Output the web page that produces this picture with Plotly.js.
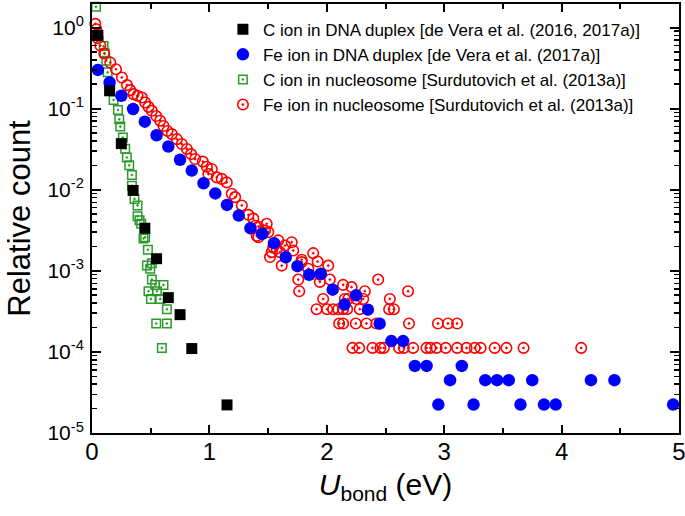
<!DOCTYPE html>
<html>
<head>
<meta charset="utf-8">
<script src="https://cdn.plot.ly/plotly-3.0.1.min.js"></script>
<style>html,body{margin:0;padding:0;background:#fff;}#chart{width:685px;height:516px;}</style>
</head>
<body>
<div id="chart"></div>
<script>
// C ion in DNA duplex
const blackX = [0.05,0.15,0.25,0.35,0.45,0.55,0.65,0.75,0.85,1.15];
const blackY = [0.8,0.166,0.037,0.0098,0.00335,0.00141,0.000467,0.000288,0.00011,0.0000222];

// Fe ion in DNA duplex
const blueX = [0.05,0.15,0.25,0.35,0.45,0.55,0.65,0.75,0.85,0.95,1.05,1.15,1.25,1.35,1.45,1.55,1.65,1.75,1.85,1.95,2.05,2.15,2.25,2.35,2.45,2.55,2.65,2.75,2.85,2.95,3.05,3.15,3.25,3.35,3.45,3.55,3.65,3.75,3.85,3.95,4.25,4.45,4.95];
const blueY = [0.30,0.21,0.144,0.099,0.069,0.047,0.034,0.0234,0.0172,0.012,0.0090,0.0065,0.0048,0.00335,0.00286,0.00219,0.00147,0.00114,0.000895,0.00092,0.000586,0.000383,0.000498,0.000332,0.000223,0.000136,0.000136,0.0000672,0.0000672,0.0000224,0.0000448,0.0000672,0.0000224,0.0000448,0.0000448,0.0000448,0.0000224,0.0000448,0.0000224,0.0000224,0.0000448,0.0000448,0.0000224];

// C ion in nucleosome
const greenX = [0.034,0.099,0.107,0.122,0.133,0.184,0.221,0.232,0.241,0.263,0.283,0.297,0.317,0.34,0.34,0.362,0.388,0.388,0.405,0.419,0.439,0.453,0.476,0.468,0.496,0.51,0.51,0.538,0.609,0.481,0.553,0.581,0.502,0.638,0.547,0.638,0.595];
const greenY = [1.8,0.59,0.48,0.39,0.28,0.128,0.096,0.074,0.060,0.044,0.032,0.025,0.020,0.0152,0.0112,0.0077,0.0064,0.0047,0.0042,0.0038,0.0025,0.0026,0.00182,0.00116,0.00106,0.00124,0.00078,0.00067,0.00067,0.00056,0.00056,0.00045,0.00045,0.000336,0.000224,0.000224,0.000112];

// Fe ion in nucleosome
const redX = [0.028,0.037,0.043,0.048,0.071,0.105,0.156,0.204,0.255,0.298,0.326,0.354,0.388,0.425,0.453,0.481,0.510,0.547,0.581,0.609,0.643,0.680,0.723,0.765,0.808,0.844,0.878,0.944,0.978,0.991,1.020,1.063,1.105,1.148,1.190,1.219,1.276,1.332,1.374,1.389,1.403,1.417,1.417,1.474,1.488,1.502,1.516,1.531,1.544,1.573,1.587,1.601,1.616,1.644,1.701,1.714,1.757,1.765,1.786,1.786,1.842,1.884,1.913,1.922,1.941,1.941,1.969,2.003,2.012,2.026,2.054,2.097,2.105,2.139,2.139,2.139,2.154,2.173,2.182,2.211,2.219,2.247,2.253,2.276,2.281,2.310,2.324,2.338,2.389,2.423,2.437,2.457,2.486,2.531,2.537,2.571,2.616,2.656,2.692,2.70,2.735,2.849,2.883,2.934,2.947,3.013,3.032,3.11,3.11,3.19,3.26,3.31,3.43,3.53,3.676,4.167];
const redY = [1.11,0.95,0.82,0.74,0.60,0.48,0.37,0.306,0.242,0.195,0.169,0.151,0.144,0.137,0.119,0.105,0.094,0.081,0.071,0.061,0.053,0.0485,0.042,0.0366,0.0318,0.0275,0.0239,0.0222,0.0192,0.0156,0.018,0.0142,0.0136,0.0123,0.0089,0.0081,0.0064,0.0049,0.0044,0.0036,0.0027,0.0035,0.0026,0.00314,0.0038,0.0030,0.00148,0.0017,0.00196,0.00187,0.00237,0.0017,0.00116,0.00205,0.00225,0.00178,0.00078,0.00056,0.00137,0.00128,0.00106,0.00165,0.000336,0.0013,0.000896,0.00073,0.00045,0.000336,0.00116,0.00078,0.000336,0.000336,0.000224,0.00067,0.000336,0.000224,0.00045,0.000336,0.00045,0.00063,0.000112,0.000224,0.00045,0.000112,0.000336,0.00045,0.00056,0.000224,0.000112,0.000224,0.00078,0.000112,0.000112,0.000336,0.00045,0.000336,0.000112,0.000112,0.00056,0.000224,0.000112,0.000112,0.000112,0.000112,0.000224,0.000112,0.000224,0.000224,0.000112,0.000112,0.000112,0.000112,0.000112,0.000112,0.000112,0.000112];

const seriesNames = [
  "C ion in DNA duplex [de Vera et al. (2016, 2017a)]",
  "Fe ion in DNA duplex [de Vera et al. (2017a)]",
  "C ion in nucleosome [Surdutovich et al. (2013a)]",
  "Fe ion in nucleosome [Surdutovich et al. (2013a)]"
];

const yTickVals = [1e-5,1e-4,1e-3,1e-2,1e-1,1];
const yTickText = ["10<sup>-5</sup>","10<sup>-4</sup>","10<sup>-3</sup>","10<sup>-2</sup>","10<sup>-1</sup>","10<sup>0</sup>"];
const yMinorVals = [];
for (let e = -5; e <= 0; e++) for (let m = 2; m <= 9; m++) yMinorVals.push(m * Math.pow(10, e));

const FONT = "Arial, 'Liberation Sans', sans-serif";

const traces = [
  {x: greenX, y: greenY, name: seriesNames[2], legendrank: 3, mode: 'markers', type: 'scatter', cliponaxis: false,
   marker: {symbol: 'square-open-dot', size: 8.5, color: '#2a9a2a', line: {width: 1.5, color: '#2a9a2a'}}},
  {x: redX, y: redY, name: seriesNames[3], legendrank: 4, mode: 'markers', type: 'scatter', cliponaxis: false,
   marker: {symbol: 'circle-open-dot', size: 10.5, color: '#ff0000', line: {width: 1.6, color: '#ff0000'}}},
  {x: blueX, y: blueY, name: seriesNames[1], legendrank: 2, mode: 'markers', type: 'scatter', cliponaxis: false,
   marker: {symbol: 'circle', size: 12.5, color: '#0000ff'}},
  {x: blackX, y: blackY, name: seriesNames[0], legendrank: 1, mode: 'markers', type: 'scatter', cliponaxis: false,
   marker: {symbol: 'square', size: 11, color: '#000000'}}
];

const layout = {
  width: 685, height: 516,
  margin: {l: 92, r: 6, t: 4, b: 83},
  paper_bgcolor: '#ffffff', plot_bgcolor: '#ffffff',
  font: {family: FONT, color: '#000'},
  showlegend: true,
  legend: {x: 0.223, y: 0.982, xanchor: 'left', yanchor: 'top', traceorder: 'normal',
           font: {size: 17, family: FONT}, bgcolor: 'rgba(0,0,0,0)', tracegroupgap: 0, itemsizing: 'trace'},
  xaxis: {
    range: [0, 5], tickmode: 'linear', tick0: 0, dtick: 1,
    ticks: 'inside', ticklen: 8, tickwidth: 2, tickcolor: '#000',
    showline: true, linewidth: 2, linecolor: '#000', mirror: 'allticks',
    showgrid: false, zeroline: false, ticklabeloverflow: 'allow',
    tickfont: {size: 24, family: FONT}, ticklabelstandoff: -4,
    minor: {dtick: 0.5, tick0: 0, ticks: 'inside', ticklen: 5, tickwidth: 2, tickcolor: '#000', showgrid: false},
    title: {text: '<i>U</i><sub>bond</sub> (eV)', font: {size: 30, family: FONT}, standoff: 10}
  },
  yaxis: {
    type: 'log', range: [-5, 0.29],
    tickmode: 'array', tickvals: yTickVals, ticktext: yTickText,
    ticks: 'inside', ticklen: 9, tickwidth: 2, tickcolor: '#000',
    showline: true, linewidth: 2, linecolor: '#000', mirror: 'allticks',
    showgrid: false, zeroline: false,
    tickfont: {size: 21, family: FONT}, ticklabelstandoff: 2,
    minor: {tickmode: 'array', tickvals: yMinorVals, ticks: 'inside', ticklen: 5, tickwidth: 1.5, tickcolor: '#000', showgrid: false},
    title: {text: 'Relative count', font: {size: 31, family: FONT}, standoff: 8}
  }
};

Plotly.newPlot('chart', traces, layout, {displayModeBar: false, staticPlot: true});
</script>
</body>
</html>
